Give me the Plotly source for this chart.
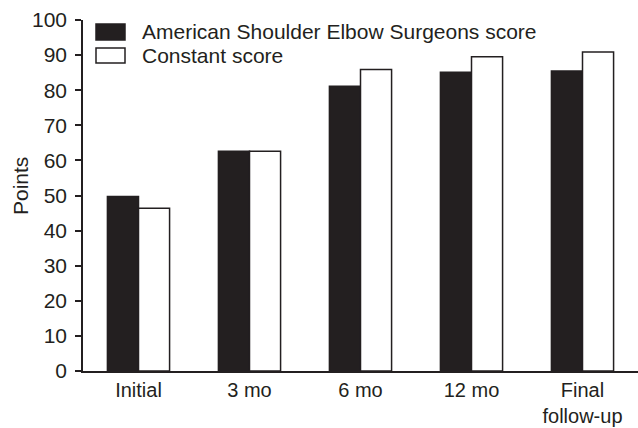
import plotly.graph_objects as go

categories = ["Initial", "3 mo", "6 mo", "12 mo", "Final<br>follow-up"]
ases_scores = [49.7, 62.6, 81.1, 85.1, 85.5]
constant_scores = [46.4, 62.6, 85.9, 89.5, 90.9]
series_names = ["American Shoulder Elbow Surgeons score", "Constant score"]
y_ticks = [0, 10, 20, 30, 40, 50, 60, 70, 80, 90, 100]

INK = "#231f20"
FONT = "Liberation Sans, Arial, Helvetica, sans-serif"
FS = 21

W, H = 638, 428
ML, MR, MT, MB = 83, 0, 20, 57

fig = go.Figure()
fig.add_trace(go.Bar(x=categories, y=ases_scores, name=series_names[0],
                     marker=dict(color=INK, line=dict(color=INK, width=1.5))))
fig.add_trace(go.Bar(x=categories, y=constant_scores, name=series_names[1],
                     marker=dict(color="white", line=dict(color=INK, width=1.5))))

fig.update_layout(
    width=W, height=H,
    margin=dict(l=ML, r=MR, t=MT, b=MB, autoexpand=False),
    paper_bgcolor="white", plot_bgcolor="white",
    barmode="group", bargap=0.44, bargroupgap=0,
    showlegend=False,
    font=dict(family=FONT, size=FS, color=INK),
)
fig.update_xaxes(
    range=[-0.5, 4.5], showline=True, linecolor=INK, linewidth=1.5,
    ticks="", showgrid=False, zeroline=False, automargin=False,
    ticklabelstandoff=0,
    tickfont=dict(size=20, color=INK),
)
fig.update_yaxes(
    range=[0, 100], tickvals=y_ticks, showline=True, linecolor=INK, linewidth=1.5,
    ticks="outside", ticklen=6, tickwidth=1.5, tickcolor=INK,
    showgrid=False, zeroline=False, automargin=False, ticklabelstandoff=4,
    tickfont=dict(size=FS, color=INK),
)

# Axis title
pw = W - ML - MR
ph = H - MT - MB
fig.add_annotation(text="Points", xref="paper", yref="paper",
                   x=(21 - ML) / pw, y=1 - (186 - MT) / ph, textangle=-90,
                   showarrow=False, font=dict(size=FS, color=INK),
                   xanchor="center", yanchor="middle")

# Legend drawn with shapes + text
def px2x(px):
    return (px - ML) / pw

def py2y(py):
    return 1 - (py - MT) / ph

legend_rows = [(series_names[0], INK, 24, 40), (series_names[1], "white", 48, 63)]
for name, fill, y0, y1 in legend_rows:
    fig.add_shape(type="rect", xref="paper", yref="paper",
                  x0=px2x(96), x1=px2x(125), y0=py2y(y1), y1=py2y(y0),
                  fillcolor=fill, line=dict(color=INK, width=1.5))
    fig.add_annotation(text=name, xref="paper", yref="paper",
                       x=px2x(140), y=py2y((y0 + y1) / 2), showarrow=False,
                       xanchor="left", yanchor="middle",
                       font=dict(size=FS, color=INK))

fig.write_html("out.html",
               config={"displayModeBar": False},
               post_script="document.body.style.margin='0';document.body.style.overflow='hidden';")
